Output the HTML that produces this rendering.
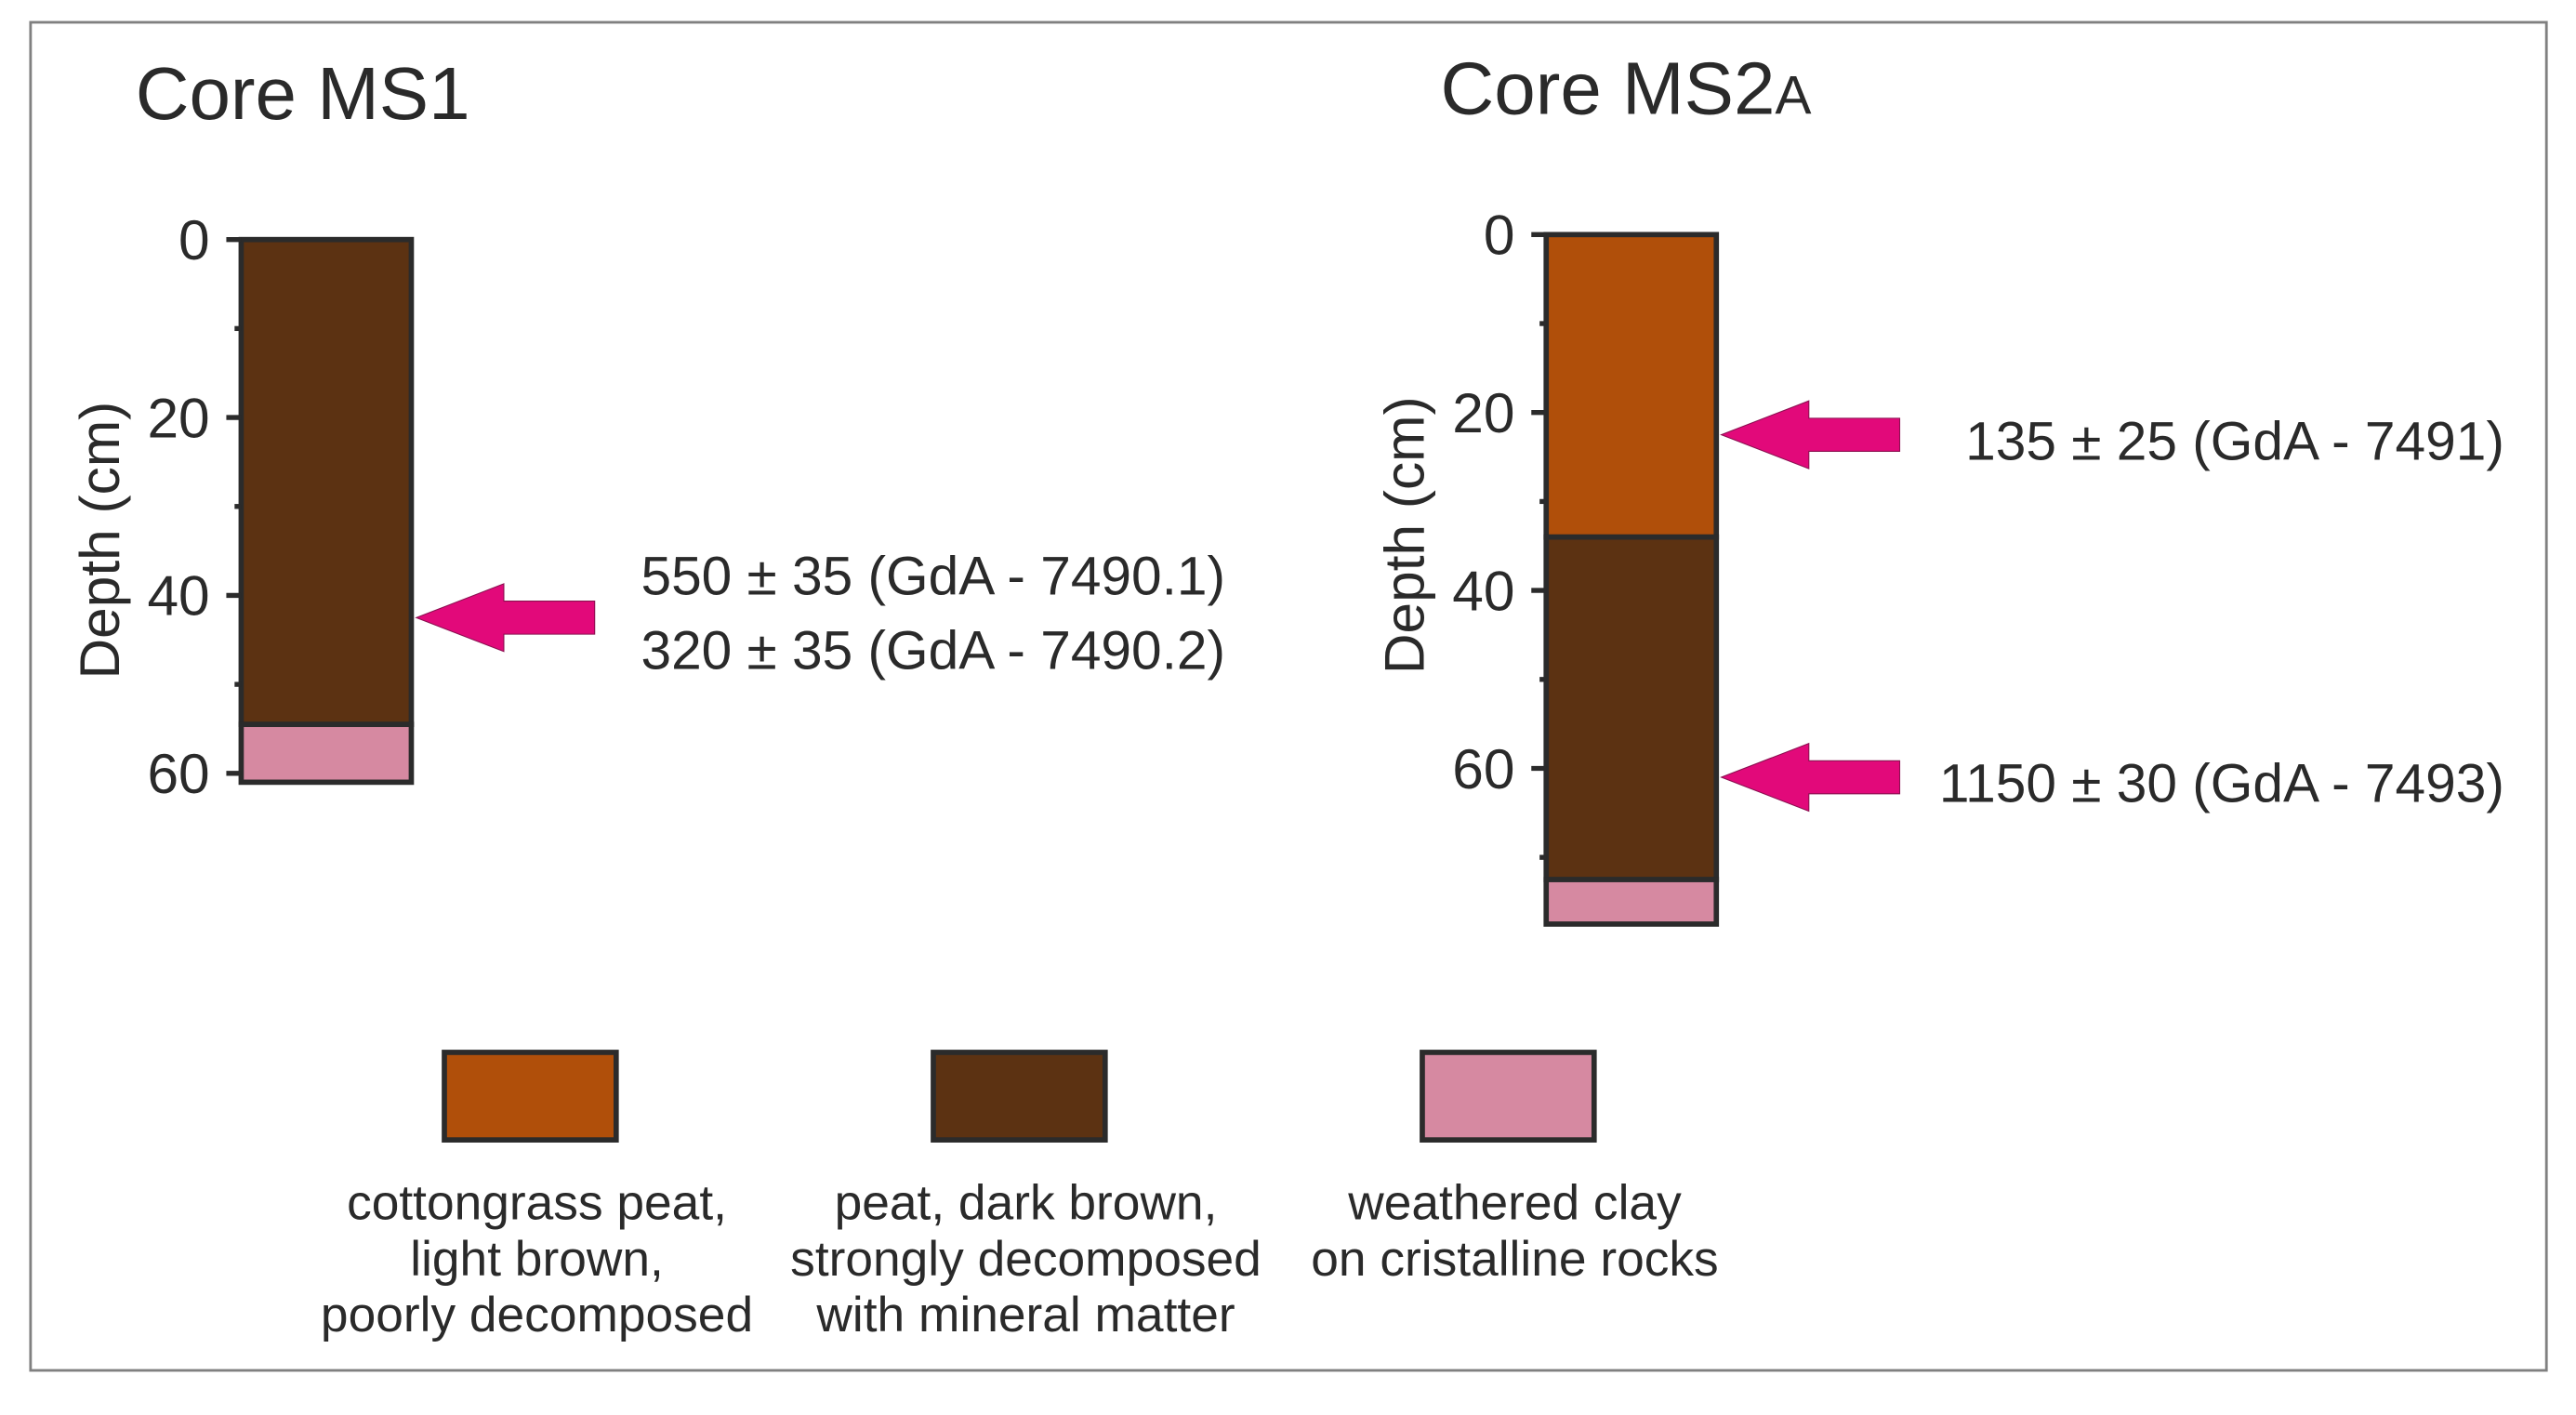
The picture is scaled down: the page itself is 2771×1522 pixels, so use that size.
<!DOCTYPE html>
<html><head><meta charset="utf-8"><style>
html,body{margin:0;padding:0;background:#fff;}
svg{display:block;font-family:"Liberation Sans",Arial,sans-serif;}
</style></head><body>
<svg id="chart" width="2771" height="1522" viewBox="0 0 1559.4 856.5" preserveAspectRatio="none" xmlns="http://www.w3.org/2000/svg">
<rect x="18.5" y="13.5" width="1523" height="816" fill="#fff" stroke="#808080" stroke-width="1.6"/>
<text x="82" y="72" font-size="45" fill="#2a2a2a">Core MS1</text>
<text x="872" y="69" font-size="45" fill="#2a2a2a">Core MS2<tspan font-size="33">A</tspan></text>
<g id="cores"></g>
<g id="legend"></g>
</svg>
<script>
// core data (depth in cm)
const coreNames = ["MS1", "MS2A"];
const ms1LayerTops = [0, 54.5];
const ms1LayerBottoms = [54.5, 61];
const ms1LayerTypes = [1, 2];
const ms2LayerTops = [0, 34, 72.5];
const ms2LayerBottoms = [34, 72.5, 77.5];
const ms2LayerTypes = [0, 1, 2];
const ms1TickValues = [0, 10, 20, 30, 40, 50, 60];
const ms2TickValues = [0, 10, 20, 30, 40, 50, 60, 70];
const ms1SampleDepths = [42.5];
const ms1SampleLabels = [["550 ± 35 (GdA - 7490.1)", "320 ± 35 (GdA - 7490.2)"]];
const ms2SampleDepths = [22.5, 61];
const ms2SampleLabels = [["135 ± 25 (GdA - 7491)"], ["1150 ± 30 (GdA - 7493)"]];
const layerColors = ["#b04f0a", "#5c3212", "#d689a1"];
const legendLabels = [
  ["cottongrass peat,", "light brown,", "poorly decomposed"],
  ["peat, dark brown,", "strongly decomposed", "with mineral matter"],
  ["weathered clay", "on cristalline rocks"]
];

const NS = "http://www.w3.org/2000/svg";
function mk(tag, attrs, parent) {
  const e = document.createElementNS(NS, tag);
  for (const k in attrs) e.setAttribute(k, attrs[k]);
  parent.appendChild(e);
  return e;
}
const pxPerCm = 5.385;
const cores = document.getElementById("cores");

function drawCore(name, x0, y0, tops, bottoms, types, ticks, sDepths, sLabels, labelMode) {
  const y = d => y0 + d * pxPerCm;
  const w = 103;
  const g = mk("g", {}, cores);
  
  
  for (let i = 0; i < tops.length; i++) {
    const r = mk("rect", {x: x0, y: y(tops[i]), width: w, height: y(bottoms[i]) - y(tops[i]),
      fill: layerColors[types[i]], stroke: "#2b2b2b", "stroke-width": 3.2}, g);
    
    
  }
  ticks.forEach(t => {
    const major = t % 20 === 0;
    const l = mk("line", {x1: x0 - (major ? 9 : 4), x2: x0, y1: y(t), y2: y(t), stroke: "#2b2b2b", "stroke-width": 3}, g);
    
    
    if (major) {
      const tx = mk("text", {x: x0 - 19, y: y(t) + 12, "font-size": 34, "text-anchor": "end", fill: "#2a2a2a"}, g);
      tx.textContent = t;
      
      
    }
  });
  const at = mk("text", {x: 0, y: 0, "font-size": 34, "text-anchor": "middle", fill: "#2a2a2a",
    transform: "translate(" + (x0 - 74) + "," + (y0 + 182) + ") rotate(-90)"}, g);
  at.textContent = "Depth (cm)";
  
  
  sDepths.forEach((d, i) => {
    const ty = y(d), tip = x0 + w + 3;
    const p = mk("polygon", {points: [
      [tip, ty], [tip + 53, ty - 20.5], [tip + 53, ty - 10], [tip + 108, ty - 10],
      [tip + 108, ty + 10], [tip + 53, ty + 10], [tip + 53, ty + 20.5]].map(a => a.join(",")).join(" "),
      fill: "#e2097a", stroke: "#8a1050", "stroke-width": 0.6}, g);
    
    
    const lines = sLabels[i];
    lines.forEach((s, j) => {
      const off = lines.length === 2 ? (j === 0 ? -14 : 31) : 15;
      const attrs = labelMode === "left"
        ? {x: 388, y: ty + off, "font-size": 33, fill: "#2a2a2a"}
        : {x: 1516, y: ty + off, "font-size": 33, "text-anchor": "end", fill: "#2a2a2a"};
      const t = mk("text", attrs, g);
      t.textContent = s;
      
      
    });
  });
}
drawCore(coreNames[0], 146, 145, ms1LayerTops, ms1LayerBottoms, ms1LayerTypes, ms1TickValues, ms1SampleDepths, ms1SampleLabels, "left");
drawCore(coreNames[1], 936, 142, ms2LayerTops, ms2LayerBottoms, ms2LayerTypes, ms2TickValues, ms2SampleDepths, ms2SampleLabels, "right");

const legend = document.getElementById("legend");
const legendCenters = [321, 617, 913];
legendLabels.forEach((lines, i) => {
  const g = mk("g", {}, legend);
  
  
  const r = mk("rect", {x: legendCenters[i] - 52, y: 637, width: 104, height: 53, fill: layerColors[i], stroke: "#2b2b2b", "stroke-width": 3.2}, g);
  
  
  lines.forEach((s, j) => {
    const t = mk("text", {x: legendCenters[i] + 4, y: 738 + j * 34, "font-size": 30, "text-anchor": "middle", fill: "#2a2a2a"}, g);
    t.textContent = s;
    
    
  });
});
</script>
</body></html>
